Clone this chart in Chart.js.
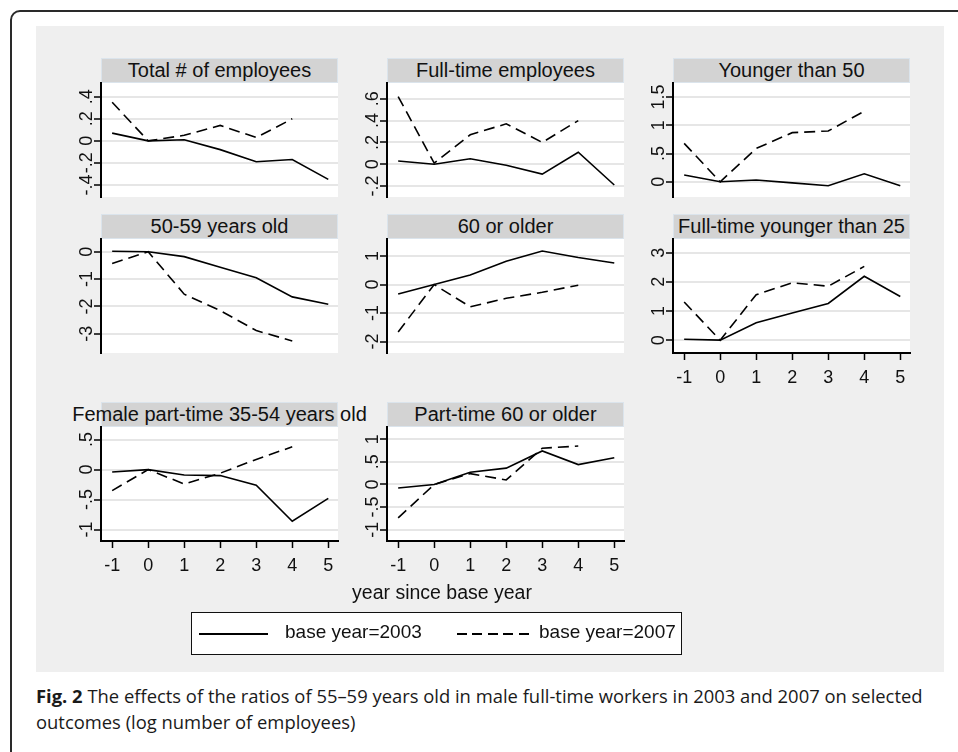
<!DOCTYPE html>
<html>
<head>
<meta charset="utf-8">
<script src="https://cdn.jsdelivr.net/npm/chart.js@4.4.1/dist/chart.umd.min.js"></script>
<style>
  body { margin: 0; width: 958px; height: 752px; overflow: hidden; position: relative; background: #fff; font-family: 'Liberation Sans', Arial, sans-serif; }
  #frame { position: absolute; left: 10px; top: 10px; width: 990px; height: 790px; border: 2px solid #2a2a2a; border-radius: 10px; }
  #region { position: absolute; left: 36px; top: 26px; width: 908px; height: 646px; background: #efefef; }
  .ptitle { position: absolute; height: 25px; background: #d3d3d3; border: 1px solid #dbe4ec; box-sizing: border-box;
            display: flex; justify-content: center; align-items: center; font-size: 20px; color: #111; white-space: nowrap; }
  canvas.panel { position: absolute; }
  #xtitle { position: absolute; left: 242px; width: 400px; top: 581px; text-align: center; font-size: 19.5px; color: #111; }
  #legend { position: absolute; left: 191px; top: 612px; width: 491px; height: 43px; box-sizing: border-box; border: 1.5px solid #111; background: #fff; }
  #legend .ln { position: absolute; top: 20px; height: 2px; }
  #legend .solid { left: 7px; width: 69px; background: #000; }
  #legend .dashed { left: 265px; width: 72px; background: repeating-linear-gradient(to right, #000 0 10px, transparent 10px 15.5px); }
  #legend .lt { position: absolute; top: 8px; font-size: 19px; color: #111; line-height: 22px; }
  #caption { position: absolute; left: 36px; top: 683px; width: 905px; font-family: 'Open Sans', sans-serif; font-size: 18.4px; line-height: 26px; color: #1a1a1a; }
</style>
</head>
<body>
<div id="frame"></div>
<div id="region"></div>
<div id="panels"></div>
<div id="xtitle">year since base year</div>
<div id="legend">
  <span class="ln solid"></span><span class="lt" style="left:93px">base year=2003</span>
  <span class="ln dashed"></span><span class="lt" style="left:347px">base year=2007</span>
</div>
<div id="caption"><b>Fig. 2</b> The effects of the ratios of 55–59 years old in male full-time workers in 2003 and 2007 on selected outcomes (log number of employees)</div>
<script>
// year since base year
const years = [-1, 0, 1, 2, 3, 4, 5];
const xTicks = [-1, 0, 1, 2, 3, 4, 5];

const titles = ['Total # of employees', 'Full-time employees', 'Younger than 50',
  '50-59 years old', '60 or older', 'Full-time younger than 25',
  'Female part-time 35-54 years old', 'Part-time 60 or older'];

// base year 2003 (solid) runs to year 5, base year 2007 (dashed) to year 4
const total2003 = [0.07, 0, 0.01, -0.08, -0.19, -0.17, -0.35];
const total2007 = [0.35, 0, 0.05, 0.14, 0.03, 0.2];
const fullTime2003 = [0.03, 0, 0.05, -0.01, -0.09, 0.11, -0.19];
const fullTime2007 = [0.62, 0.01, 0.27, 0.37, 0.2, 0.4];
const under50_2003 = [0.12, 0, 0.03, -0.02, -0.07, 0.14, -0.07];
const under50_2007 = [0.68, 0, 0.59, 0.87, 0.9, 1.25];
const age5059_2003 = [0.02, 0, -0.18, -0.57, -0.95, -1.65, -1.92];
const age5059_2007 = [-0.43, 0, -1.55, -2.15, -2.88, -3.26];
const over60_2003 = [-0.33, 0, 0.34, 0.82, 1.18, 0.95, 0.76];
const over60_2007 = [-1.66, 0, -0.78, -0.48, -0.27, -0.02];
const ftUnder25_2003 = [0.03, 0, 0.6, 0.93, 1.26, 2.19, 1.5];
const ftUnder25_2007 = [1.31, 0, 1.56, 1.97, 1.85, 2.53];
const femPT_2003 = [-0.04, 0, -0.09, -0.1, -0.26, -0.86, -0.48];
const femPT_2007 = [-0.35, 0, -0.24, -0.06, 0.17, 0.38];
const ptOver60_2003 = [-0.08, 0, 0.27, 0.36, 0.74, 0.44, 0.59];
const ptOver60_2007 = [-0.74, 0, 0.24, 0.1, 0.8, 0.85];

// y tick values per panel
const totalTicks = [-0.4, -0.2, 0, 0.2, 0.4];
const fullTimeTicks = [-0.2, 0, 0.2, 0.4, 0.6];
const under50Ticks = [0, 0.5, 1, 1.5];
const age5059Ticks = [-3, -2, -1, 0];
const over60Ticks = [-2, -1, 0, 1];
const ftUnder25Ticks = [0, 1, 2, 3];
const femPTTicks = [-1, -0.5, 0, 0.5];
const ptOver60Ticks = [-1, -0.5, 0, 0.5, 1];

const panels = [
  { s03: total2003, s07: total2007, ticks: totalTicks, min: -0.51, max: 0.525, col: 0, row: 0 },
  { s03: fullTime2003, s07: fullTime2007, ticks: fullTimeTicks, min: -0.30, max: 0.744, col: 1, row: 0 },
  { s03: under50_2003, s07: under50_2007, ticks: under50Ticks, min: -0.27, max: 1.75, col: 2, row: 0 },
  { s03: age5059_2003, s07: age5059_2007, ticks: age5059Ticks, min: -3.70, max: 0.465, col: 0, row: 1 },
  { s03: over60_2003, s07: over60_2007, ticks: over60Ticks, min: -2.40, max: 1.60, col: 1, row: 1 },
  { s03: ftUnder25_2003, s07: ftUnder25_2007, ticks: ftUnder25Ticks, min: -0.44, max: 3.47, col: 2, row: 1, xaxis: true },
  { s03: femPT_2003, s07: femPT_2007, ticks: femPTTicks, min: -1.19, max: 0.71, col: 0, row: 2, xaxis: true },
  { s03: ptOver60_2003, s07: ptOver60_2007, ticks: ptOver60Ticks, min: -1.25, max: 1.27, col: 1, row: 2, xaxis: true }
];

const colX = [101, 387, 673];
const rowY = [83, 239, 427];
const AXW = 32, M = 14, PW = 237, PH = 114, XH = 40;
const FONT = "'Liberation Sans', Arial, sans-serif";
Chart.defaults.font.family = FONT;
const tickFont = { family: FONT, size: 18 };

const measure = document.createElement('canvas').getContext('2d');
measure.font = "18px 'Liberation Sans'";

// stata style: .4 instead of 0.4
const stataLabel = v => String(v).replace(/^(-?)0\./, '$1.');

const whiteArea = {
  id: 'whiteArea',
  beforeDraw(chart) {
    const { ctx, chartArea: a } = chart;
    ctx.save();
    ctx.fillStyle = '#fff';
    ctx.fillRect(a.left, a.top, a.width, a.height);
    ctx.restore();
  }
};

const holder = document.getElementById('panels');

panels.forEach((p, i) => {
  const left = colX[p.col], top = rowY[p.row];

  const t = document.createElement('div');
  t.className = 'ptitle';
  t.style.left = left + 'px';
  t.style.top = (top - 25) + 'px';
  t.style.width = PW + 'px';
  t.textContent = titles[i];
  holder.appendChild(t);

  const cv = document.createElement('canvas');
  cv.className = 'panel';
  const w = AXW + PW + 2 * M, h = PH + (p.xaxis ? XH : 0) + 2 * M;
  cv.width = w; cv.height = h;
  cv.style.width = w + 'px'; cv.style.height = h + 'px';
  cv.style.left = (left - AXW - M) + 'px';
  cv.style.top = (top - M) + 'px';
  holder.appendChild(cv);

  const widest = Math.max(...p.ticks.map(v => measure.measureText(stataLabel(v)).width));

  new Chart(cv, {
    type: 'line',
    data: {
      datasets: [
        { label: 'base year=2003', data: p.s03.map((y, k) => ({ x: years[k], y })),
          borderColor: '#000', borderWidth: 1.6, pointRadius: 0, tension: 0 },
        { label: 'base year=2007', data: p.s07.map((y, k) => ({ x: years[k], y })),
          borderColor: '#000', borderWidth: 1.6, borderDash: [11, 6], pointRadius: 0, tension: 0 }
      ]
    },
    options: {
      responsive: false, animation: false, devicePixelRatio: 1,
      layout: { padding: M },
      plugins: { legend: { display: false }, tooltip: { enabled: false } },
      scales: {
        x: {
          type: 'linear', min: -1.31, max: 5.27, display: !!p.xaxis,
          afterBuildTicks: s => { s.ticks = xTicks.map(v => ({ value: v })); },
          afterFit: s => { if (p.xaxis) s.height = XH; },
          grid: { drawOnChartArea: false, tickLength: 7, tickColor: '#000', tickWidth: 1.5 },
          border: { color: '#000', width: 2 },
          ticks: { font: tickFont, color: '#111', padding: 7, autoSkip: false, maxRotation: 0, callback: v => stataLabel(v) }
        },
        y: {
          min: p.min, max: p.max,
          afterBuildTicks: s => { s.ticks = p.ticks.map(v => ({ value: v })); },
          afterFit: s => { s.width = AXW; },
          grid: { color: '#e6e6e6', lineWidth: 2, tickLength: 7, tickColor: '#000', tickWidth: 1.5 },
          border: { color: '#000', width: 2 },
          ticks: { font: tickFont, color: '#111', minRotation: 90, maxRotation: 90, crossAlign: 'center',
                   padding: 7 - widest / 2, autoSkip: false, callback: v => stataLabel(v) }
        }
      }
    },
    plugins: [whiteArea]
  });
});
</script>
</body>
</html>
